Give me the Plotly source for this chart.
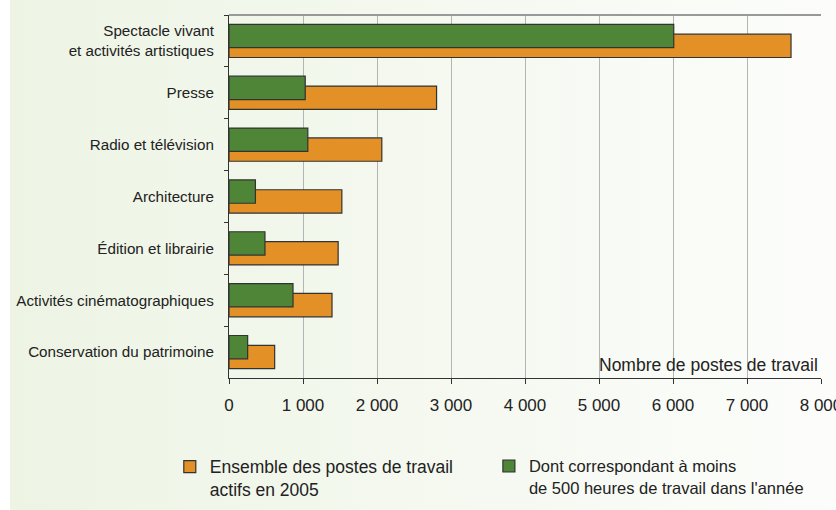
import plotly.graph_objects as go

categories = [
    "Spectacle vivant<br>et activités artistiques",
    "Presse",
    "Radio et télévision",
    "Architecture",
    "Édition et librairie",
    "Activités cinématographiques",
    "Conservation du patrimoine",
]
total_posts = [7595, 2805, 2065, 1525, 1475, 1392, 617]
short_posts = [6010, 1030, 1065, 357, 486, 865, 252]

series_names = [
    "Ensemble des postes de travail<br>actifs en 2005",
    "Dont correspondant à moins<br>de 500 heures de travail dans l'année",
]
x_tickvals = [0, 1000, 2000, 3000, 4000, 5000, 6000, 7000, 8000]
x_ticktext = ["0", "1 000", "2 000", "3 000", "4 000", "5 000", "6 000", "7 000", "8 000"]
axis_title = "Nombre de postes de travail"

ORANGE = "#e39027"
GREEN = "#4f8537"
OUTLINE = "#333333"
FONT = "Liberation Sans, Arial, sans-serif"

W, H = 836, 510
ML, MR, MT, MB = 229, 15, 15, 132

fig = go.Figure()
fig.add_trace(go.Bar(
    y=categories, x=total_posts, orientation="h", name=series_names[0],
    marker=dict(color=ORANGE, line=dict(color=OUTLINE, width=1.2)),
    width=0.45, offset=-0.13, legend="legend",
))
fig.add_trace(go.Bar(
    y=categories, x=short_posts, orientation="h", name=series_names[1],
    marker=dict(color=GREEN, line=dict(color=OUTLINE, width=1.2)),
    width=0.45, offset=-0.32, legend="legend2",
))

gradient_svg = (
    "data:image/svg+xml;utf8,"
    "<svg xmlns='http://www.w3.org/2000/svg' width='100' height='100' preserveAspectRatio='none'>"
    "<defs><linearGradient id='g' x1='0' y1='0' x2='1' y2='0'>"
    "<stop offset='0' stop-color='%23edf4e4'/><stop offset='1' stop-color='%23fcfdfb'/>"
    "</linearGradient></defs><rect width='100' height='100' fill='url(%23g)'/></svg>"
)
pw = W - ML - MR
ph = H - MT - MB
x0p = (10 - ML) / pw
x1p = (W - ML) / pw
y_top = 1 + MT / ph
y_bot = -MB / ph

legend_common = dict(
    orientation="h", y=-0.195, xanchor="left", yanchor="top",
    valign="top", bgcolor="rgba(0,0,0,0)",
)

fig.update_layout(
    width=W, height=H,
    margin=dict(l=ML, r=MR, t=MT, b=MB, autoexpand=False),
    paper_bgcolor="white",
    plot_bgcolor="rgba(0,0,0,0)",
    barmode="overlay",
    font=dict(family=FONT, size=16, color="#222222"),
    images=[dict(source=gradient_svg, xref="paper", yref="paper",
                 x=x0p, y=y_top, sizex=x1p - x0p, sizey=y_top - y_bot,
                 xanchor="left", yanchor="top", sizing="stretch", layer="below")],
    xaxis=dict(
        range=[0, 8000], tickvals=x_tickvals, ticktext=x_ticktext,
        showgrid=True, gridcolor="#b5b5b5", gridwidth=1.2,
        showline=True, linecolor="#333333", linewidth=1.2,
        ticks="outside", ticklen=5, tickcolor="#333333",
        ticklabelstandoff=6, ticklabeloverflow="allow",
        tickfont=dict(size=17, color="#222222"),
        zeroline=False, fixedrange=True, automargin=False,
    ),
    yaxis=dict(
        autorange="reversed", type="category",
        showline=True, linecolor="#333333", linewidth=1.2,
        ticks="outside", ticklen=4, tickcolor="#333333", tickson="boundaries",
        ticklabelstandoff=11, tickfont=dict(size=15.2, color="#222222"),
        showgrid=False, fixedrange=True, automargin=False,
    ),
    showlegend=True,
    legend=dict(x=-0.100, font=dict(size=17.5, color="#222222"), **legend_common),
    legend2=dict(x=0.439, font=dict(size=16.5, color="#222222"), **legend_common),
    shapes=[
        dict(type="line", xref="paper", yref="paper", x0=0, x1=1, y0=1, y1=1,
             line=dict(color="#999999", width=2)),
    ],
    annotations=[
        dict(text=axis_title, xref="paper", yref="paper", x=0.999, y=0,
             xanchor="right", yanchor="bottom", yshift=1, showarrow=False,
             font=dict(size=17.5, color="#222222")),
    ],
)

fig.write_html(
    "out.html",
    config={"displayModeBar": False},
    post_script="document.body.style.margin='0';document.body.style.overflow='hidden';",
)
